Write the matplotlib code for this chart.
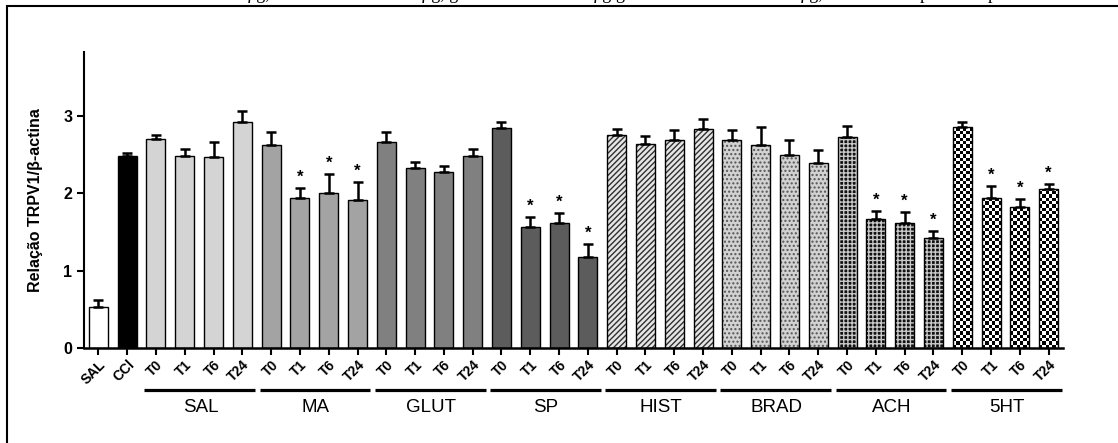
import numpy as np
import matplotlib
matplotlib.use("Agg")
import matplotlib.pyplot as plt
from matplotlib.patches import Rectangle
from matplotlib.transforms import blended_transform_factory

plt.rcParams["font.family"] = ["Liberation Sans", "DejaVu Sans"]
plt.rcParams["hatch.linewidth"] = 1.0

# Data
controls = ["SAL", "CCl"]
control_means = [0.53, 2.49]
control_errs = [0.09, 0.03]

groups = ["SAL", "MA", "GLUT", "SP", "HIST", "BRAD", "ACH", "5HT"]
times = ["T0", "T1", "T6", "T24"]

means = {
    "SAL":  [2.70, 2.48, 2.47, 2.93],
    "MA":   [2.63, 1.94, 2.01, 1.91],
    "GLUT": [2.67, 2.33, 2.28, 2.48],
    "SP":   [2.85, 1.56, 1.62, 1.18],
    "HIST": [2.76, 2.64, 2.69, 2.83],
    "BRAD": [2.69, 2.63, 2.50, 2.39],
    "ACH":  [2.73, 1.67, 1.62, 1.42],
    "5HT":  [2.86, 1.94, 1.83, 2.06],
}
errs = {
    "SAL":  [0.05, 0.10, 0.20, 0.14],
    "MA":   [0.16, 0.13, 0.24, 0.24],
    "GLUT": [0.12, 0.08, 0.08, 0.10],
    "SP":   [0.08, 0.14, 0.13, 0.17],
    "HIST": [0.07, 0.10, 0.13, 0.13],
    "BRAD": [0.13, 0.23, 0.19, 0.17],
    "ACH":  [0.14, 0.10, 0.14, 0.09],
    "5HT":  [0.07, 0.16, 0.10, 0.06],
}
signif = {
    "SAL":  [0, 0, 0, 0],
    "MA":   [0, 1, 1, 1],
    "GLUT": [0, 0, 0, 0],
    "SP":   [0, 1, 1, 1],
    "HIST": [0, 0, 0, 0],
    "BRAD": [0, 0, 0, 0],
    "ACH":  [0, 1, 1, 1],
    "5HT":  [0, 1, 1, 1],
}

# style per group: (facecolor, hatch, hatch color)
styles = {
    "SAL":  ("#d4d4d4", None, None),
    "MA":   ("#a3a3a3", None, None),
    "GLUT": ("#808080", None, None),
    "SP":   ("#5c5c5c", None, None),
    "HIST": ("#e6e6e6", "//////", "#303030"),
    "BRAD": ("#d2d2d2", "....", "#555555"),
    "ACH":  ("#111111", "++++", "#c8c8c8"),
    "5HT":  ("checker", None, None),
}

W = 0.66

fig = plt.figure(figsize=(11.18, 4.43), dpi=100)
ax = fig.add_axes([0.0751, 0.2144, 0.8757, 0.6682])

# controls
ax.bar(0, control_means[0], W, color="white", edgecolor="black", lw=1, zorder=2)
ax.bar(1, control_means[1], W, color="black", edgecolor="black", lw=1, zorder=2)
ax.errorbar([0, 1], control_means, yerr=[[0, 0], control_errs], fmt="none",
            ecolor="black", elinewidth=1.8, capsize=3.6, capthick=1.8, zorder=3)

tick_labels = list(controls)
tr = blended_transform_factory(ax.transData, ax.transAxes)
for gi, g in enumerate(groups):
    xs = np.arange(4) + 2 + gi * 4
    fc, hatch, hc = styles[g]
    m = means[g]
    e = errs[g]
    if fc == "checker":
        bars = ax.bar(xs, m, W, fill=False, edgecolor="black", lw=1, zorder=3)
        for b, x, h in zip(bars, xs, m):
            ncol = 6
            nrow = int(round(h / 0.043))
            board = (np.indices((nrow, ncol)).sum(axis=0) % 2).astype(float)
            im = ax.imshow(board, cmap="gray", extent=[x - W / 2, x + W / 2, 0, nrow * 0.043],
                           aspect="auto", interpolation="nearest", zorder=2, origin="lower")
            im.set_clip_path(b)
    elif hatch:
        ax.bar(xs, m, W, color=fc, edgecolor=hc, hatch=hatch, lw=0, zorder=2)
        ax.bar(xs, m, W, fill=False, edgecolor="black", lw=1, zorder=3)
    else:
        ax.bar(xs, m, W, color=fc, edgecolor="black", lw=1, zorder=2)
    ax.errorbar(xs, m, yerr=[np.zeros(4), e], fmt="none", ecolor="black",
                elinewidth=1.8, capsize=3.6, capthick=1.8, zorder=4)
    for x, v, d, s in zip(xs, m, e, signif[g]):
        if s:
            ax.text(x, v + d + 0.04, "*", ha="center", va="bottom", fontsize=12,
                    fontweight="bold")
    tick_labels += times

    # group underline + label
    ax.plot([xs[0] - 0.4, xs[-1] + 0.45], [-0.142, -0.142], color="black", lw=2.3,
            transform=tr, clip_on=False, solid_capstyle="butt")
    ax.text(xs.mean() + 0.05, -0.2, g, transform=tr, ha="center", va="center",
            fontsize=13.5)

ax.set_xlim(-0.5, 33.5)
ax.set_ylim(0, 3.83)
ax.set_xticks(np.arange(34))
ax.set_xticklabels(tick_labels, rotation=45, ha="right", rotation_mode="anchor",
                   fontsize=10, fontweight="bold")
ax.set_yticks([0, 1, 2, 3])
ax.set_yticklabels(["0", "1", "2", "3"], fontsize=11.5, fontweight="bold")
ax.tick_params(axis="both", direction="out", length=5, width=1.5)
ax.tick_params(axis="x", pad=2)
for side in ["top", "right"]:
    ax.spines[side].set_visible(False)
ax.spines["left"].set_linewidth(1.5)
ax.spines["bottom"].set_linewidth(1.8)

ax.set_ylabel("Relação TRPV1/β-actina", fontsize=11.5, fontweight="bold")
ax.yaxis.set_label_coords(-0.042, 0.5)

# outer frame of the figure panel
fig.add_artist(Rectangle((7 / 1118, -0.05), 1.1, 1.05 - 6 / 443, transform=fig.transFigure,
                         fill=False, lw=1.5, edgecolor="black"))

# cut-off caption line above the panel (only the descenders show, as in the source)
for x, s in [(246, "µg,"), (421, "µg, g"), (592, "µg"), (615, "g"), (799, "µg,"),
             (920, "p"), (988, "p")]:
    fig.text(x / 1118, 1 + 1 / 443, s, family="Liberation Serif", fontsize=13,
             ha="left", va="baseline")

fig.savefig("out.png", dpi=100)
